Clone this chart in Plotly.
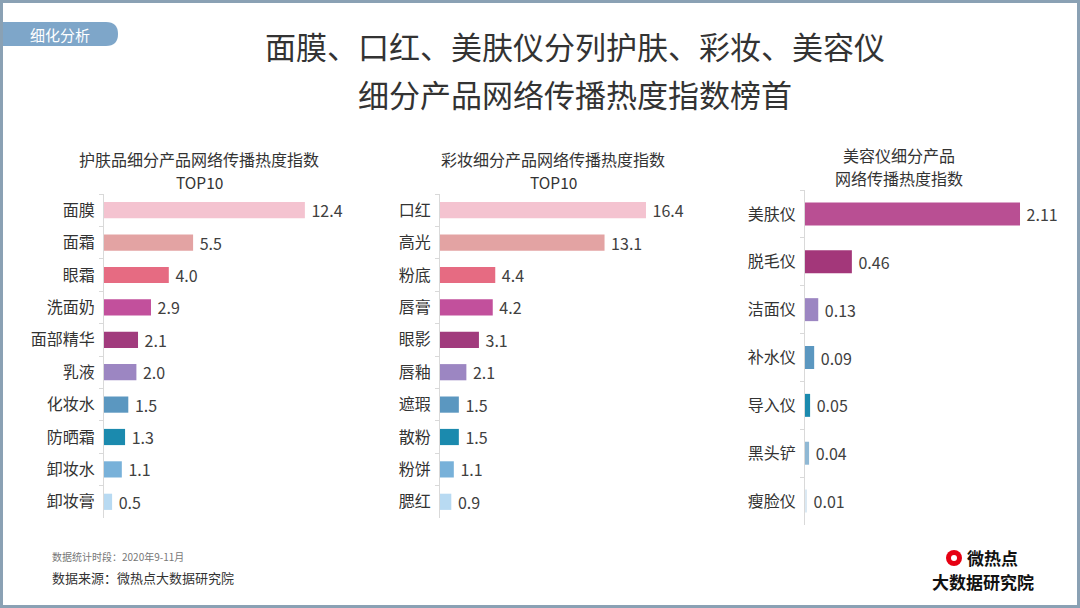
import plotly.graph_objects as go

# 护肤品
skin_names = ["面膜", "面霜", "眼霜", "洗面奶", "面部精华", "乳液", "化妆水", "防晒霜", "卸妆水", "卸妆膏"]
skin_values = [12.4, 5.5, 4.0, 2.9, 2.1, 2.0, 1.5, 1.3, 1.1, 0.5]
# 彩妆
makeup_names = ["口红", "高光", "粉底", "唇膏", "眼影", "唇釉", "遮瑕", "散粉", "粉饼", "腮红"]
makeup_values = [16.4, 13.1, 4.4, 4.2, 3.1, 2.1, 1.5, 1.5, 1.1, 0.9]
# 美容仪
device_names = ["美肤仪", "脱毛仪", "洁面仪", "补水仪", "导入仪", "黑头铲", "瘦脸仪"]
device_values = [2.11, 0.46, 0.13, 0.09, 0.05, 0.04, 0.01]

colors10 = ["#f4c3d0", "#e3a3a3", "#e66b82", "#c2509c", "#a13b7d",
            "#9c86c2", "#5b97c0", "#1b8aae", "#78b1d9", "#b8daf2"]
colors7 = ["#b94f93", "#a3377a", "#9c86c2", "#5b97c0", "#1b8aae", "#8fb8d4", "#dbe9f3"]

W, H = 1080, 608
FONT = "Noto Sans CJK SC"


def px(x):
    return x / W


def py(y):
    return 1 - y / H


fig = go.Figure()

panels = [
    (skin_names, skin_values, colors10, "x", "y", "{:.1f}"),
    (makeup_names, makeup_values, colors10, "x2", "y2", "{:.1f}"),
    (device_names, device_values, colors7, "x3", "y3", "{:.2f}"),
]
for names, vals, cols, xa, ya, fmt in panels:
    fig.add_trace(go.Bar(
        y=names, x=vals, orientation="h", xaxis=xa, yaxis=ya,
        marker=dict(color=cols, line=dict(width=0)),
        width=0.5 if len(names) == 10 else 0.48,
        text=[" " + fmt.format(v) for v in vals], textposition="outside", constraintext="none",
        textfont=dict(size=16, color="#404040", family=FONT),
        cliponaxis=False, showlegend=False, hoverinfo="skip",
    ))

xcommon = dict(visible=False, fixedrange=True)
ycommon = dict(autorange="reversed", showline=True, linecolor="#d9d9d9", linewidth=1,
               ticks="outside", ticklen=4, tickcolor="#d9d9d9", tickson="boundaries",
               tickfont=dict(size=16, color="#333333", family=FONT), ticklabelstandoff=5,
               showgrid=False, zeroline=False, type="category", fixedrange=True)

fig.update_layout(
    width=W, height=H, margin=dict(l=0, r=0, t=0, b=0),
    paper_bgcolor="white", plot_bgcolor="rgba(0,0,0,0)",
    font=dict(family=FONT, color="#333333"),
    xaxis=dict(domain=[px(104), px(330)], range=[0, 226 / 16.2], anchor="y", **xcommon),
    xaxis2=dict(domain=[px(440), px(680)], range=[0, 240 / 12.56], anchor="y2", **xcommon),
    xaxis3=dict(domain=[px(805), px(1060)], range=[0, 255 / 101.9], anchor="y3", **xcommon),
    yaxis=dict(domain=[py(518), py(194)], anchor="x", **ycommon),
    yaxis2=dict(domain=[py(518), py(194)], anchor="x2", **ycommon),
    yaxis3=dict(domain=[py(525), py(190)], anchor="x3", **ycommon),
)

ann = [
    dict(x=px(575), y=py(45), text="面膜、口红、美肤仪分列护肤、彩妆、美容仪", size=31),
    dict(x=px(575), y=py(93), text="细分产品网络传播热度指数榜首", size=31),
    dict(x=px(199), y=py(159), text="护肤品细分产品网络传播热度指数", size=16),
    dict(x=px(199), y=py(182), text="TOP10", size=15.5),
    dict(x=px(553), y=py(159), text="彩妆细分产品网络传播热度指数", size=16),
    dict(x=px(553), y=py(182), text="TOP10", size=15.5),
    dict(x=px(899), y=py(155), text="美容仪细分产品", size=16),
    dict(x=px(899), y=py(178), text="网络传播热度指数", size=16),
]
for a in ann:
    fig.add_annotation(x=a["x"], y=a["y"], xref="paper", yref="paper", text=a["text"],
                       showarrow=False, xanchor="center", yanchor="middle",
                       font=dict(size=a["size"], color="#333333", family=FONT))

fig.add_annotation(x=px(60), y=py(34), xref="paper", yref="paper", text="细化分析",
                   showarrow=False, xanchor="center", yanchor="middle",
                   font=dict(size=15, color="white", family=FONT))
fig.add_annotation(x=px(50), y=py(556), xref="paper", yref="paper", text="数据统计时段：2020年9-11月",
                   showarrow=False, xanchor="left", yanchor="middle",
                   font=dict(size=10, color="#777777", family=FONT))
fig.add_annotation(x=px(50), y=py(577), xref="paper", yref="paper", text="数据来源：微热点大数据研究院",
                   showarrow=False, xanchor="left", yanchor="middle",
                   font=dict(size=13, color="#333333", family=FONT))
fig.add_annotation(x=px(992), y=py(557), xref="paper", yref="paper", text="<b>微热点</b>",
                   showarrow=False, xanchor="center", yanchor="middle",
                   font=dict(size=17, color="#111111", family=FONT))
fig.add_annotation(x=px(983), y=py(581), xref="paper", yref="paper", text="<b>大数据研究院</b>",
                   showarrow=False, xanchor="center", yanchor="middle",
                   font=dict(size=17, color="#111111", family=FONT))

shapes = [
    # outer frame
    dict(type="rect", xref="paper", yref="paper", x0=0, x1=1, y0=0, y1=1,
         line=dict(color="#8aa1b4", width=6), fillcolor="rgba(0,0,0,0)"),
    # badge
    dict(type="path", xref="paper", yref="paper",
         path=f"M {px(3)},{py(22)} L {px(106)},{py(22)} Q {px(118)},{py(22)} {px(118)},{py(34)} "
              f"Q {px(118)},{py(46)} {px(106)},{py(46)} L {px(3)},{py(46)} Z",
         fillcolor="#7ea6c9", line=dict(width=0)),
    # logo eye
    dict(type="circle", xref="paper", yref="paper", x0=px(946), x1=px(962), y0=py(566), y1=py(550),
         fillcolor="#e60012", line=dict(width=0)),
    dict(type="circle", xref="paper", yref="paper", x0=px(951), x1=px(957), y0=py(561), y1=py(555),
         fillcolor="white", line=dict(width=0)),
]
fig.update_layout(shapes=shapes)

fig.write_html("out.html", config={"displayModeBar": False},
               post_script="document.body.style.margin='0';")
